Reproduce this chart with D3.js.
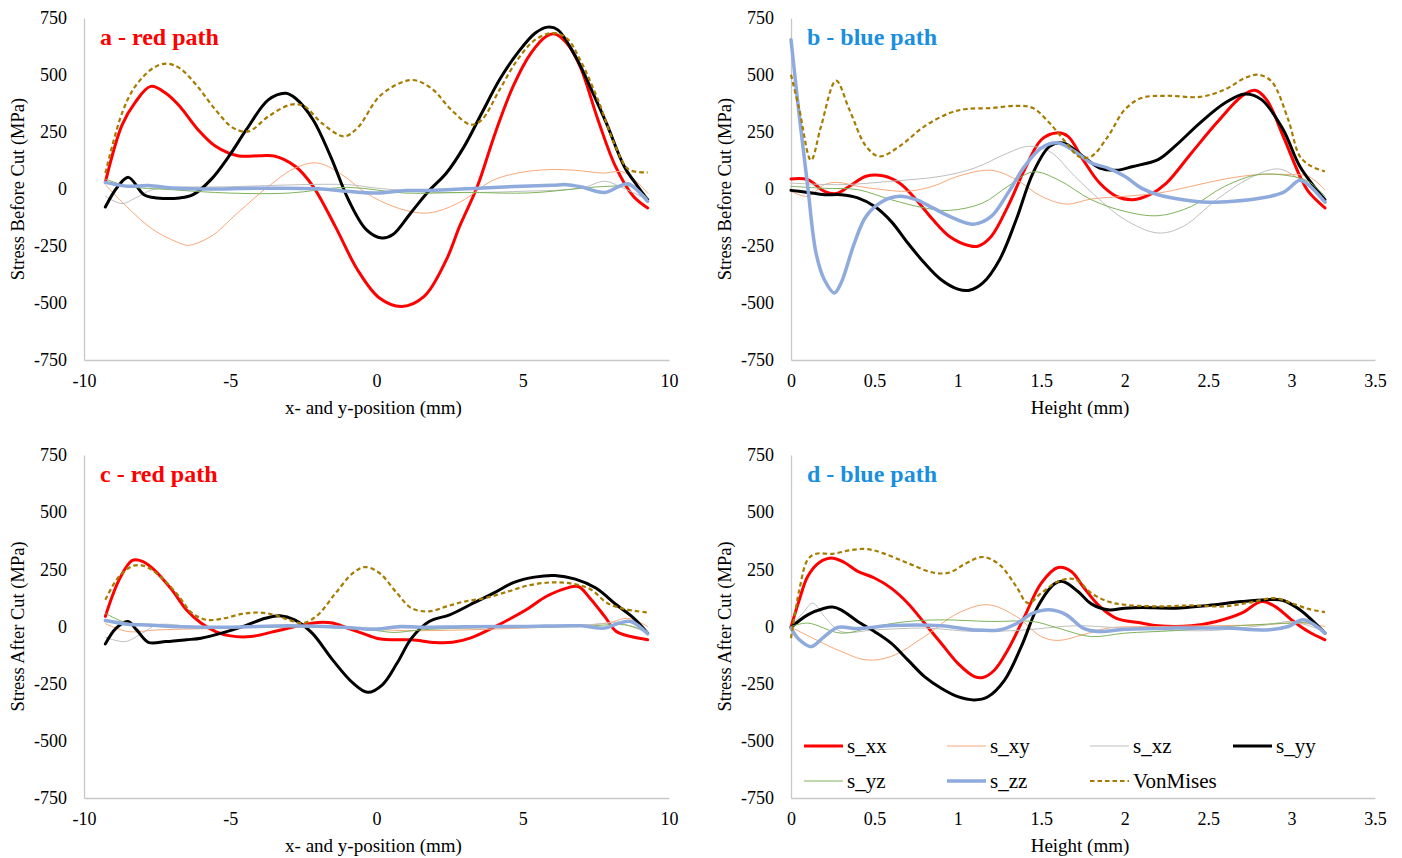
<!DOCTYPE html>
<html>
<meta charset="utf-8">
<head>
  <title>Stress before and after cut</title>
  <script src="https://d3js.org/d3.v7.min.js"></script>
  <style>
    body { margin: 0; background: #fff; }
    text { font-family: "Liberation Serif", "Times New Roman", serif; fill: #000; }
  </style>
</head>
<body>
<div id="my_dataviz"></div>
<script>

// series names and styles (order = drawing order)
var seriesNames = ["s_xx", "s_xy", "s_xz", "s_yy", "s_yz", "s_zz", "VonMises"];

// ---- panel a : red path, before cut  [position (mm), stress (MPa)]
var a_sxx = [[-9.27,30],[-8.7,280],[-8.25,380],[-7.72,450],[-7.2,420],[-6.73,363],[-6.1,260],[-5.5,187],[-4.75,146],[-3.97,146],[-3.5,145],[-2.78,100],[-2.17,12],[-1.41,-164],[-0.65,-354],[0.1,-478],[0.87,-515],[1.63,-471],[2.39,-310],[2.84,-164],[3.45,12],[4.06,246],[4.67,450],[5.28,596],[5.81,670],[6.1,680],[6.5,640],[6.96,538],[7.57,304],[8.17,99],[8.78,-32],[9.27,-83]];
var a_sxy = [[-9.27,19],[-8.55,-76],[-7.64,-178],[-6.73,-237],[-6.43,-247],[-5.66,-208],[-4.75,-105],[-3.69,12],[-2.78,92],[-2.02,114],[-1.26,70],[-0.35,-18],[0.56,-76],[1.48,-105],[2.08,-98],[3.0,-47],[3.91,34],[4.82,70],[5.89,85],[6.8,82],[7.72,70],[8.47,73],[9.27,-18]];
var a_sxz = [[-9.27,-32],[-8.7,-64],[-8.25,-40],[-7.64,-3],[-5,10],[-1,19],[0,4],[2,-15],[5,-10],[7,4],[7.8,34],[8.3,12],[9.27,-47]];
var a_syy = [[-9.27,-79],[-8.85,10],[-8.48,51],[-7.95,-25],[-7.5,-39],[-6.73,-39],[-6.27,-25],[-5.66,41],[-5.05,143],[-4.45,260],[-3.69,392],[-3.1,420],[-2.78,399],[-2.17,304],[-1.57,143],[-0.96,-47],[-0.35,-178],[0.18,-215],[0.56,-200],[1.17,-105],[1.78,-10],[2.39,70],[3.0,187],[3.6,333],[4.21,480],[4.82,596],[5.43,684],[5.85,710],[6.19,699],[6.8,582],[7.4,421],[7.86,289],[8.47,99],[8.93,12],[9.27,-47]];
var a_syz = [[-9.27,44],[-8.5,12],[-7,-3],[-5,-18],[-3,-18],[-1,7],[1,-18],[3,-15],[5,-18],[6,-10],[7,4],[8,12],[8.7,12],[9.27,-40]];
var a_szz = [[-9.27,29],[-8.5,12],[-7.8,15],[-7,4],[-6,0],[-4,3],[-2,1],[-1,-10],[0,-18],[1,-7],[2,-6],[4,7],[6,16],[6.5,19],[7,9],[7.8,-15],[8.3,12],[8.6,23],[9.27,-54]];
var a_von = [[-9.27,70],[-8.7,333],[-8.25,450],[-7.64,530],[-7.19,550],[-6.73,530],[-6.12,450],[-5.51,348],[-4.9,268],[-4.37,253],[-3.69,319],[-2.93,370],[-2.47,363],[-1.87,289],[-1.11,231],[-0.65,268],[0.1,406],[0.87,468],[1.32,477],[1.93,436],[2.55,348],[3.23,282],[3.6,304],[4.21,436],[4.82,567],[5.43,655],[6.04,684],[6.5,662],[6.96,567],[7.57,392],[8.17,187],[8.63,85],[9.27,73]];

// ---- panel b : blue path, before cut  [height (mm), stress (MPa)]
var b_sxx = [[0,44],[0.1,41],[0.2,-10],[0.27,-20],[0.35,12],[0.45,56],[0.55,58],[0.65,26],[0.75,-47],[0.85,-134],[0.95,-208],[1.07,-249],[1.12,-251],[1.2,-208],[1.3,-76],[1.4,85],[1.5,216],[1.59,246],[1.66,231],[1.75,129],[1.85,26],[1.95,-32],[2.05,-47],[2.15,-25],[2.25,26],[2.4,158],[2.55,289],[2.7,406],[2.78,433],[2.85,392],[2.95,231],[3.05,56],[3.1,-10],[3.2,-83]];
var b_sxy = [[0,-10],[0.1,-32],[0.2,19],[0.28,29],[0.4,12],[0.55,-3],[0.7,-10],[0.85,12],[1.0,56],[1.2,82],[1.35,41],[1.5,-32],[1.65,-66],[1.8,-44],[2.0,-32],[2.2,-18],[2.4,12],[2.6,44],[2.8,63],[3.0,63],[3.1,56],[3.2,-3]];
var b_sxz = [[0,26],[0.3,19],[0.6,34],[0.9,56],[1.1,92],[1.3,158],[1.42,187],[1.55,165],[1.7,56],[1.85,-47],[2.0,-134],[2.2,-193],[2.35,-164],[2.55,-47],[2.75,48],[2.92,88],[3.05,41],[3.2,-47]];
var b_syy = [[0,-6],[0.1,-15],[0.2,-25],[0.3,-25],[0.4,-39],[0.5,-76],[0.6,-142],[0.7,-237],[0.8,-325],[0.9,-398],[1.0,-439],[1.07,-444],[1.15,-412],[1.25,-310],[1.35,-134],[1.45,70],[1.55,187],[1.63,202],[1.75,143],[1.85,92],[1.95,82],[2.05,99],[2.2,129],[2.3,187],[2.45,289],[2.6,377],[2.72,417],[2.82,392],[2.95,260],[3.05,99],[3.2,-47]];
var b_syz = [[0,12],[0.2,3],[0.4,-3],[0.6,-47],[0.8,-83],[0.95,-94],[1.15,-61],[1.3,12],[1.45,75],[1.6,41],[1.8,-47],[2.0,-98],[2.2,-117],[2.4,-76],[2.6,12],[2.8,63],[3.0,56],[3.1,34],[3.2,-32]];
var b_szz = [[0,655],[0.05,319],[0.1,12],[0.15,-281],[0.2,-398],[0.26,-456],[0.3,-412],[0.38,-237],[0.45,-120],[0.55,-54],[0.65,-32],[0.75,-47],[0.85,-83],[0.95,-120],[1.05,-149],[1.1,-154],[1.2,-120],[1.3,-18],[1.4,99],[1.5,180],[1.6,202],[1.7,165],[1.8,114],[1.9,92],[2.0,56],[2.1,4],[2.2,-25],[2.35,-47],[2.5,-58],[2.65,-54],[2.8,-42],[2.95,-15],[3.05,38],[3.1,19],[3.2,-58]];
var b_von = [[0,501],[0.05,348],[0.12,126],[0.18,275],[0.27,475],[0.35,348],[0.45,187],[0.53,143],[0.65,187],[0.8,275],[0.95,333],[1.05,351],[1.2,355],[1.35,365],[1.45,355],[1.55,289],[1.65,202],[1.73,140],[1.8,143],[1.9,231],[2.0,348],[2.1,399],[2.25,409],[2.45,404],[2.6,436],[2.72,487],[2.8,501],[2.88,472],[2.98,304],[3.05,143],[3.12,99],[3.2,77]];

// ---- panel c : red path, after cut
var c_sxx = [[-9.27,44],[-8.8,204],[-8.35,289],[-8.0,285],[-7.6,248],[-7.0,161],[-6.5,73],[-6.0,15],[-5.5,-22],[-5.0,-41],[-4.3,-44],[-3.5,-22],[-3.0,-7],[-2.5,7],[-2.0,18],[-1.5,15],[-1.0,-7],[-0.5,-29],[0,-51],[0.5,-58],[1.2,-58],[2.0,-70],[2.6,-69],[3.2,-51],[4.0,-4],[4.6,36],[5.2,80],[5.8,131],[6.5,168],[6.9,175],[7.3,124],[7.8,44],[8.2,-22],[8.7,-44],[9.27,-58]];
var c_sxy = [[-9.27,12],[-8.5,-22],[-7.5,-15],[-5,-7],[-3,0],[-1,-7],[1,-18],[3,-15],[5,-7],[7,4],[8,18],[8.6,36],[9.27,0]];
var c_sxz = [[-9.27,-47],[-8.6,-66],[-8.0,-29],[-7.5,7],[-6,-3],[-3,0],[0,-7],[3,-3],[6,0],[7.5,10],[8.3,15],[9.27,-29]];
var c_syy = [[-9.27,-76],[-8.9,-7],[-8.5,22],[-8.2,-15],[-7.8,-69],[-7.2,-66],[-6.5,-58],[-6.0,-51],[-5.3,-29],[-4.5,3],[-3.8,36],[-3.3,47],[-2.8,29],[-2.2,-29],[-1.5,-146],[-0.8,-248],[-0.3,-288],[0.2,-255],[0.7,-161],[1.2,-51],[1.8,22],[2.5,51],[3.2,95],[4.0,146],[4.7,193],[5.4,216],[6.1,223],[6.8,207],[7.5,168],[8.2,95],[8.8,36],[9.27,-29]];
var c_syz = [[-9.27,58],[-8.6,18],[-7.5,0],[-5,-4],[-2,-3],[0,-18],[0.6,-26],[1.5,-15],[3,-7],[5,-3],[7,0],[8.5,7],[9.27,-22]];
var c_szz = [[-9.27,26],[-8.5,10],[-7.8,7],[-7,0],[-5,-3],[-3,3],[-1,-4],[0,-12],[0.8,0],[1.5,-3],[3,-1],[5,0],[7,3],[7.8,-7],[8.3,15],[8.7,22],[9.27,-32]];
var c_von = [[-9.27,117],[-8.8,219],[-8.3,266],[-7.9,263],[-7.4,219],[-6.8,139],[-6.3,58],[-5.8,29],[-5.2,36],[-4.6,55],[-4.0,61],[-3.5,51],[-3.0,29],[-2.5,15],[-2.0,51],[-1.4,146],[-0.8,234],[-0.4,260],[0.1,234],[0.7,146],[1.2,80],[1.8,66],[2.4,88],[3.0,109],[3.7,124],[4.5,153],[5.2,180],[6.0,193],[6.7,187],[7.3,164],[7.9,102],[8.5,76],[9.27,61]];

// ---- panel d : blue path, after cut
var d_sxx = [[0,-3],[0.05,117],[0.1,219],[0.17,280],[0.25,299],[0.32,280],[0.4,241],[0.5,212],[0.6,168],[0.7,102],[0.8,15],[0.9,-73],[1.0,-161],[1.1,-219],[1.15,-223],[1.22,-190],[1.3,-102],[1.4,44],[1.5,190],[1.6,258],[1.68,241],[1.75,175],[1.85,88],[1.95,36],[2.1,15],[2.2,3],[2.4,3],[2.55,22],[2.7,58],[2.82,109],[2.9,88],[3.0,29],[3.1,-22],[3.2,-58]];
var d_sxy = [[0,-3],[0.15,-58],[0.3,-109],[0.45,-146],[0.6,-131],[0.8,-44],[1.0,58],[1.18,95],[1.35,44],[1.5,-44],[1.6,-61],[1.75,-36],[1.9,-7],[2.2,0],[2.8,7],[3.05,15],[3.2,0]];
var d_sxz = [[0,0],[0.07,58],[0.13,102],[0.2,44],[0.3,-22],[0.5,-15],[0.8,-7],[1.1,-22],[1.4,-15],[1.7,3],[2.0,-7],[2.5,-18],[2.85,7],[3.0,22],[3.2,-22]];
var d_syy = [[0,-4],[0.1,51],[0.2,80],[0.25,85],[0.3,73],[0.4,22],[0.5,-22],[0.6,-73],[0.7,-146],[0.8,-219],[0.9,-270],[1.0,-307],[1.1,-321],[1.18,-307],[1.28,-234],[1.38,-88],[1.48,88],[1.58,187],[1.63,197],[1.72,153],[1.8,99],[1.9,73],[2.0,80],[2.1,83],[2.3,80],[2.5,92],[2.7,109],[2.85,117],[2.95,114],[3.05,73],[3.2,-29]];
var d_syz = [[0,0],[0.1,15],[0.3,-29],[0.5,0],[0.7,22],[0.9,29],[1.2,22],[1.45,22],[1.6,-7],[1.8,-44],[2.0,-29],[2.3,-18],[2.7,4],[3.0,15],[3.1,15],[3.2,-22]];
var d_szz = [[0,-7],[0.05,-58],[0.12,-88],[0.2,-44],[0.28,-4],[0.4,-9],[0.6,4],[0.9,3],[1.1,-15],[1.25,-15],[1.35,12],[1.45,58],[1.55,73],[1.65,51],[1.75,-7],[1.85,-22],[2.0,-12],[2.3,-7],[2.6,-7],[2.85,-15],[2.98,0],[3.07,29],[3.2,-29]];
var d_von = [[0,-51],[0.05,161],[0.1,292],[0.15,318],[0.25,318],[0.35,333],[0.45,339],[0.55,321],[0.7,277],[0.85,236],[0.95,236],[1.05,277],[1.15,304],[1.25,270],[1.35,175],[1.42,102],[1.5,146],[1.6,197],[1.7,207],[1.8,146],[1.9,109],[2.0,95],[2.2,88],[2.4,92],[2.6,88],[2.75,105],[2.9,124],[3.0,102],[3.1,77],[3.2,63]];

var yTicks = [-750, -500, -250, 0, 250, 500, 750];
var posTicks = [-10, -5, 0, 5, 10];
var heightTicks = [0, 0.5, 1, 1.5, 2, 2.5, 3, 3.5];

var styles = {
  "s_xx":     {color: "#ff0000", width: 3},
  "s_xy":     {color: "#f8a878", width: 1},
  "s_xz":     {color: "#bfbfbf", width: 1},
  "s_yy":     {color: "#000000", width: 3},
  "s_yz":     {color: "#7fb35a", width: 1},
  "s_zz":     {color: "#8faadc", width: 3.5},
  "VonMises": {color: "#a67c00", width: 2.2, dash: "4.5,3"}
};

var panels = [
  {title: "a - red path", titleColor: "#ff0000", left: 84, right: 669, top: 18, bottom: 360,
   domain: [-10, 10], ticks: posTicks, xLabel: "x- and y-position (mm)", yLabel: "Stress Before Cut (MPa)",
   series: [a_sxx, a_sxy, a_sxz, a_syy, a_syz, a_szz, a_von]},
  {title: "b - blue path", titleColor: "#1a8fdf", left: 791, right: 1375, top: 18, bottom: 360,
   domain: [0, 3.5], ticks: heightTicks, xLabel: "Height (mm)", yLabel: "Stress Before Cut (MPa)",
   series: [b_sxx, b_sxy, b_sxz, b_syy, b_syz, b_szz, b_von]},
  {title: "c - red path", titleColor: "#ff0000", left: 84, right: 669, top: 455, bottom: 798,
   domain: [-10, 10], ticks: posTicks, xLabel: "x- and y-position (mm)", yLabel: "Stress After Cut (MPa)",
   series: [c_sxx, c_sxy, c_sxz, c_syy, c_syz, c_szz, c_von]},
  {title: "d - blue path", titleColor: "#1a8fdf", left: 791, right: 1375, top: 455, bottom: 798,
   domain: [0, 3.5], ticks: heightTicks, xLabel: "Height (mm)", yLabel: "Stress After Cut (MPa)",
   series: [d_sxx, d_sxy, d_sxz, d_syy, d_syz, d_szz, d_von], legend: true}
];

var svg = d3.select("#my_dataviz").append("svg")
    .attr("width", 1402)
    .attr("height", 858);

function styleAxis(a) {
  a.attr("font-family", null).attr("font-size", null);
  a.select(".domain").attr("stroke", "#c8c8c8").attr("stroke-width", 1.3);
  a.selectAll("text").attr("fill", "#000").style("font-size", "18px");
}

panels.forEach(function(p) {
  var x = d3.scaleLinear().domain(p.domain).range([p.left, p.right]);
  var y = d3.scaleLinear().domain([-750, 750]).range([p.bottom, p.top]);
  var g = svg.append("g");

  // axes (Excel style: grey lines, no tick marks)
  g.append("g")
    .attr("transform", "translate(0," + p.bottom + ")")
    .call(d3.axisBottom(x).tickValues(p.ticks).tickSize(0).tickPadding(14)
      .tickFormat(function(d) { return String(d); }))
    .call(styleAxis);
  g.append("g")
    .attr("transform", "translate(" + p.left + ",0)")
    .call(d3.axisLeft(y).tickValues(yTicks).tickSize(0).tickPadding(17)
      .tickFormat(function(d) { return String(d); }))
    .call(styleAxis);

  // axis titles
  g.append("text")
    .attr("x", (p.left + p.right) / 2 - 3)
    .attr("y", p.bottom + 54)
    .attr("text-anchor", "middle")
    .style("font-size", "19px")
    .text(p.xLabel);
  g.append("text")
    .attr("transform", "translate(" + (p.left - 60) + "," + ((p.top + p.bottom) / 2) + ") rotate(-90)")
    .attr("text-anchor", "middle")
    .style("font-size", "18.5px")
    .text(p.yLabel);

  // lines
  var line = d3.line()
    .x(function(d) { return x(d[0]); })
    .y(function(d) { return y(d[1]); })
    .curve(d3.curveCatmullRom.alpha(0.5));

  p.series.forEach(function(s, i) {
    var st = styles[seriesNames[i]];
    g.append("path")
      .datum(s)
      .attr("fill", "none")
      .attr("stroke", st.color)
      .attr("stroke-width", st.width)
      .attr("stroke-dasharray", st.dash || null)
      .attr("stroke-linejoin", "round")
      .attr("stroke-linecap", st.dash ? "butt" : "round")
      .attr("d", line);
  });

  // panel title
  g.append("text")
    .attr("x", p.left + 16)
    .attr("y", p.top + 27)
    .style("font-size", "24px")
    .style("font-weight", "bold")
    .style("fill", p.titleColor)
    .text(p.title);

  if (p.legend) {
    var lg = g.append("g");
    seriesNames.forEach(function(name, i) {
      var col = i < 4 ? i : i - 4;
      var row = i < 4 ? 0 : 1;
      var lx = p.left + 13 + col * 143;
      var ly = p.bottom - 52 + row * 35;
      var st = styles[name];
      lg.append("line")
        .attr("x1", lx).attr("x2", lx + 39)
        .attr("y1", ly).attr("y2", ly)
        .attr("stroke", st.color)
        .attr("stroke-width", st.width)
        .attr("stroke-dasharray", st.dash || null);
      lg.append("text")
        .attr("x", lx + 43)
        .attr("y", ly + 7)
        .style("font-size", "21px")
        .text(name);
    });
  }
});

</script>
</body>
</html>
